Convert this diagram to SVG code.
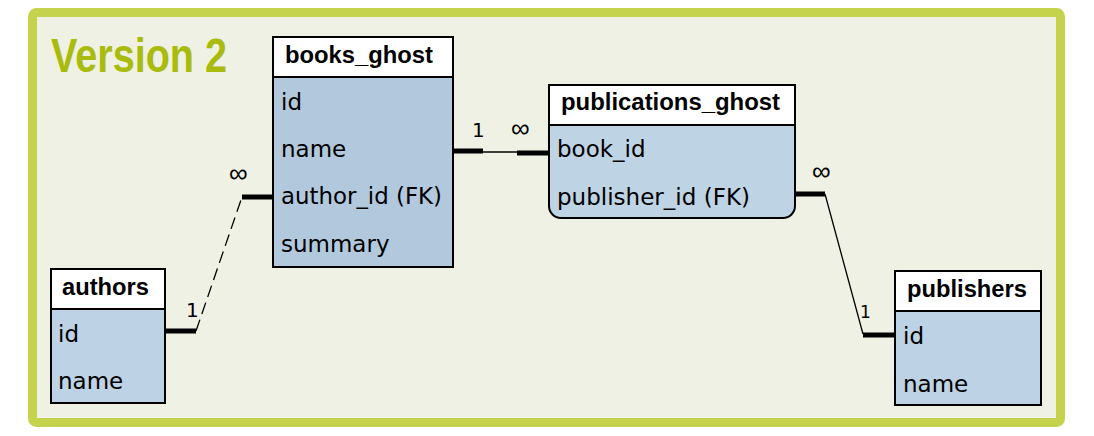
<svg xmlns="http://www.w3.org/2000/svg" width="1094" height="436" viewBox="0 0 1094 436">
<style>
.box{stroke:#000;stroke-width:2}
.hdr{fill:#fff}
.title{font-family:"Liberation Sans",Arial,sans-serif;font-weight:bold;font-size:23px;fill:#000}
.fld{font-family:"DejaVu Sans",sans-serif;font-size:23px;fill:#000}
.card{font-family:"DejaVu Sans",sans-serif;font-size:20px;fill:#000}
.inf{font-family:"Liberation Sans",Arial,sans-serif;font-size:26px;fill:#000}
.thick{stroke:#000;stroke-width:5;fill:none}
.thin{stroke:#000;stroke-width:1.3;fill:none}
</style>
<rect x="0" y="0" width="1094" height="436" fill="#fff"/>
<rect x="32.5" y="12.5" width="1028" height="410" rx="4" fill="#eff1e4" stroke="#c5d24c" stroke-width="9"/>
<text x="51" y="72" font-family="Liberation Sans,Arial,sans-serif" font-weight="bold" font-size="48" fill="#a9bb0c" textLength="176" lengthAdjust="spacingAndGlyphs">Version 2</text>

<g id="connectors">
<path class="thick" d="M165 331H196"/>
<path class="thin" d="M196 331L242 197" stroke-dasharray="12,6"/>
<path class="thick" d="M242 197H273"/>
<text class="card" x="186" y="317">1</text>
<text class="inf" x="229" y="182">∞</text>

<path class="thick" d="M453 151H483"/>
<path class="thin" d="M483 152H517"/>
<path class="thick" d="M517 153H549"/>
<text class="card" x="472" y="137">1</text>
<text class="inf" x="511" y="137">∞</text>

<path class="thick" d="M795 194H825"/>
<path class="thin" d="M825 194L863 334"/>
<path class="thick" d="M863 335H895"/>
<text class="inf" x="812" y="180">∞</text>
<text x="860" y="318" font-family="DejaVu Sans,sans-serif" font-size="17">1</text>
</g>

<g id="books_ghost">
<rect class="box" x="273" y="37" width="180" height="230" fill="#b2c9dd"/>
<rect class="box hdr" x="273" y="37" width="180" height="40"/>
<text class="title" x="285" y="63" textLength="148" lengthAdjust="spacingAndGlyphs">books_ghost</text>
<text class="fld" x="281" y="110">id</text>
<text class="fld" x="281" y="157">name</text>
<text class="fld" x="281" y="204" textLength="161" lengthAdjust="spacingAndGlyphs">author_id (FK)</text>
<text class="fld" x="281" y="252">summary</text>
</g>

<g id="publications_ghost">
<path class="box" d="M549 125H795V206A12 12 0 0 1 783 218H561A12 12 0 0 1 549 206Z" fill="#bed3e4"/>
<rect class="box hdr" x="549" y="85" width="246" height="40"/>
<text class="title" x="561" y="110" textLength="219" lengthAdjust="spacingAndGlyphs">publications_ghost</text>
<text class="fld" x="557" y="157">book_id</text>
<text class="fld" x="557" y="205" textLength="193" lengthAdjust="spacingAndGlyphs">publisher_id (FK)</text>
</g>

<g id="authors">
<rect class="box" x="51" y="269" width="114" height="134" fill="#bdd2e4"/>
<rect class="box hdr" x="51" y="269" width="114" height="40"/>
<text class="title" x="62" y="295" textLength="87" lengthAdjust="spacingAndGlyphs">authors</text>
<text class="fld" x="58" y="342">id</text>
<text class="fld" x="58" y="389">name</text>
</g>

<g id="publishers">
<rect class="box" x="895" y="271" width="146" height="134" fill="#bdd2e4"/>
<rect class="box hdr" x="895" y="271" width="146" height="40"/>
<text class="title" x="907" y="297" textLength="120" lengthAdjust="spacingAndGlyphs">publishers</text>
<text class="fld" x="903" y="344">id</text>
<text class="fld" x="903" y="392">name</text>
</g>
</svg>
